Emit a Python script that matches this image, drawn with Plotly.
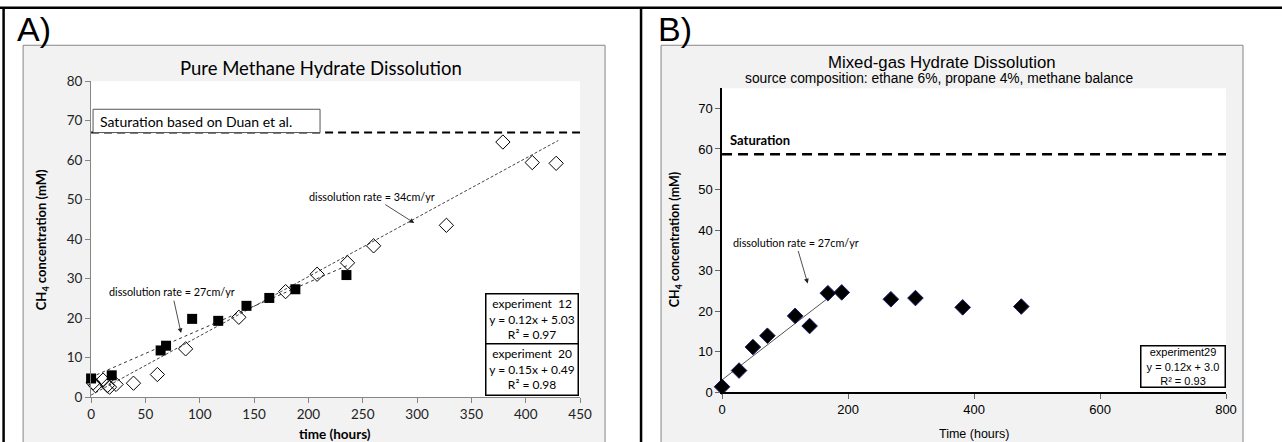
import plotly.graph_objects as go

# The captured page is the 1282x442 target scaled from a slightly larger area
# (8px body margin); positions below are given in target pixels and mapped.
SX, SY = 1282 / 1298, 442 / 458
OFF = 8
W, H = 1290, 450

# ---------------- data ----------------
exp12_time = [0, 19, 64, 69, 93, 117, 143, 164, 188, 235]
exp12_conc = [4.7, 5.5, 11.8, 13.0, 19.8, 19.3, 23.1, 25.1, 27.3, 30.9]

exp20_time = [2, 4, 11, 15, 17, 23, 39, 61, 87, 136, 179, 208, 236, 260, 327, 379, 406, 428]
exp20_conc = [3.6, 2.9, 4.3, 2.9, 2.5, 3.2, 3.5, 5.7, 12.2, 20.2, 26.7, 31.1, 34.0, 38.3, 43.5, 64.6, 59.4, 59.2]

exp29_time = [0, 27, 49, 72, 116, 139, 168, 190, 268, 307, 382, 475]
exp29_conc = [1.3, 5.3, 11.1, 13.9, 18.8, 16.3, 24.4, 24.6, 22.9, 23.2, 20.9, 21.1]

fit12 = (0.12, 5.03, [0, 236])   # slope, intercept, x-extent
fit20 = (0.15, 0.49, [0, 430])
fit29 = (0.12, 3.0, [0, 175])

sat_A = 67.0
sat_B = 58.7

xticks_A = [0, 50, 100, 150, 200, 250, 300, 350, 400, 450]
yticks_A = [0, 10, 20, 30, 40, 50, 60, 70, 80]
xticks_B = [0, 200, 400, 600, 800]
yticks_B = [0, 10, 20, 30, 40, 50, 60, 70]


def px(x):
    return (x / SX - OFF) / W


def py(y):
    return 1 - (y / SY - OFF) / H


CAL = "Lato, Carlito, Calibri, sans-serif"
ARI = "Liberation Sans, Arial, sans-serif"

fig = go.Figure()

# ---- panel A traces ----
for (m, b, ext), dash, col in [(fit12, "dot", "#333333"), (fit20, "3px,2px", "#444444")]:
    fig.add_trace(go.Scatter(x=ext, y=[m * v + b for v in ext], mode="lines",
                             line=dict(color=col, width=1, dash=dash),
                             xaxis="x", yaxis="y", showlegend=False, hoverinfo="skip"))
fig.add_trace(go.Scatter(x=[0, 450], y=[sat_A, sat_A], mode="lines",
                         line=dict(color="black", width=2, dash="8px,5px"),
                         xaxis="x", yaxis="y", showlegend=False))
fig.add_trace(go.Scatter(x=exp20_time, y=exp20_conc, mode="markers",
                         marker=dict(symbol="diamond-open", size=11, color="black", line=dict(width=1)),
                         xaxis="x", yaxis="y", showlegend=False, cliponaxis=False))
fig.add_trace(go.Scatter(x=exp12_time, y=exp12_conc, mode="markers",
                         marker=dict(symbol="square", size=10, color="black"),
                         xaxis="x", yaxis="y", showlegend=False, cliponaxis=False))

# ---- panel B traces ----
m, b, ext = fit29
fig.add_trace(go.Scatter(x=ext, y=[m * v + b for v in ext], mode="lines",
                         line=dict(color="#555555", width=1),
                         xaxis="x2", yaxis="y2", showlegend=False))
fig.add_trace(go.Scatter(x=[0, 800], y=[sat_B, sat_B], mode="lines",
                         line=dict(color="black", width=2.5, dash="10px,6px"),
                         xaxis="x2", yaxis="y2", showlegend=False))
fig.add_trace(go.Scatter(x=exp29_time, y=exp29_conc, mode="markers",
                         marker=dict(symbol="diamond", size=12, color="black",
                                     line=dict(color="#1a1a66", width=1)),
                         xaxis="x2", yaxis="y2", showlegend=False, cliponaxis=False))

shapes = [
    # gray chart areas
    dict(type="rect", xref="paper", yref="paper", x0=px(27), x1=px(609), y0=py(450), y1=py(45),
         fillcolor="#F2F2F2", line=dict(color="#868686", width=1), layer="below"),
    dict(type="rect", xref="paper", yref="paper", x0=px(665), x1=px(1247), y0=py(450), y1=py(45),
         fillcolor="#F2F2F2", line=dict(color="#868686", width=1), layer="below"),
    # white plot areas
    dict(type="rect", xref="paper", yref="paper", x0=px(95), x1=px(584), y0=py(397), y1=py(81),
         fillcolor="white", line=dict(width=0), layer="below"),
    dict(type="rect", xref="paper", yref="paper", x0=px(726), x1=px(1230), y0=py(392), y1=py(88),
         fillcolor="white", line=dict(width=0), layer="below"),
    # table lines
    dict(type="line", xref="paper", yref="paper", x0=px(0), x1=px(1290), y0=py(7.5), y1=py(7.5),
         line=dict(color="black", width=2.5)),
    dict(type="line", xref="paper", yref="paper", x0=px(7.5), x1=px(7.5), y0=py(7), y1=py(455),
         line=dict(color="black", width=2.5)),
    dict(type="line", xref="paper", yref="paper", x0=px(645), x1=px(645), y0=py(7), y1=py(455),
         line=dict(color="black", width=2.5)),
    # saturation text box A
    dict(type="rect", xref="x", yref="y", x0=1.8, x1=210.7, y0=sat_A, y1=72.9,
         fillcolor="white", line=dict(color="#555555", width=1)),
]

ann = []


def text(x, y, t, size, font=CAL, xanchor="center", color="black", **kw):
    ann.append(dict(xref="paper", yref="paper", x=px(x), y=py(y), text=t, showarrow=False,
                    xanchor=xanchor, yanchor="middle", font=dict(family=font, size=size, color=color), **kw))


def arrow_label(t, tip_x, tip_y, dx, dy, xr, yr, size=10.5):
    # tip in data coords, text centre offset from tip in target pixels
    ann.append(dict(xref=xr, yref=yr, x=tip_x, y=tip_y, ax=dx / SX, ay=dy / SY, text=t, showarrow=True,
                    arrowhead=2, arrowsize=1.2, arrowwidth=0.8, arrowcolor="#222222", standoff=0,
                    startstandoff=1, font=dict(family=CAL, size=size, color="black")))


def box(x, y, t, w, h, size, font):
    ann.append(dict(xref="paper", yref="paper", x=px(x), y=py(y), text=t, showarrow=False,
                    xanchor="center", yanchor="middle", width=w / SX, height=h / SY,
                    bordercolor="black", borderwidth=1.5, borderpad=1, bgcolor="white",
                    font=dict(family=font, size=size, color="black")))


text(38, 29, "A)", 34, ARI)
text(679, 29, "B)", 34, ARI)

# panel A texts
text(325, 68, "Pure Methane Hydrate Dissolution", 18.5)
text(102, 121, "Saturation based on Duan et al.", 14, xanchor="left")
text(46, 240, "<b>CH<sub>4</sub> concentration (mM)</b>", 13)
ann[-1]["textangle"] = -90
text(339, 434, "<b>time (hours)</b>", 13.5)
arrow_label("dissolution rate = 34cm/yr", 297.4, 44.1, 376 - 418, 197 - 223, "x", "y", 10.8)
arrow_label("dissolution rate = 27cm/yr", 82.8, 16.2, 176 - 185, 293 - 333, "x", "y", 10.8)
box(536, 319, "experiment  12<br>y = 0.12x + 5.03<br>R² = 0.97", 88, 46, 12, CAL)
box(536, 369, "experiment  20<br>y = 0.15x + 0.49<br>R² = 0.98", 88, 46, 12, CAL)

# panel B texts
text(946, 62, "Mixed-gas Hydrate Dissolution", 16.8, ARI)
text(943, 78, "source composition: ethane 6%, propane 4%, methane balance", 13.8, ARI)
text(732, 140, "<b>Saturation</b>", 13, xanchor="left")
text(679, 240, "<b>CH<sub>4</sub> concentration (mM)</b>", 12.5)
ann[-1]["textangle"] = -90
text(978, 434, "Time (hours)", 12.5, ARI)
arrow_label("dissolution rate = 27cm/yr", 136, 26.8, 800 - 812, 243 - 283, "x2", "y2", 10.8)
box(1187, 366.5, "experiment29<br>y = 0.12x + 3.0<br>R² = 0.93", 80, 37, 11, ARI)

axA = dict(showgrid=False, zeroline=False, showline=True, linecolor="#868686", linewidth=1,
           ticks="outside", ticklen=5, tickcolor="#868686",
           tickfont=dict(family=CAL, size=13.5, color="#222222"))
axB = dict(showgrid=False, zeroline=False, showline=True, linecolor="black", linewidth=1.5,
           ticks="outside", ticklen=5, tickcolor="#666666",
           tickfont=dict(family=ARI, size=13, color="black"))

fig.update_layout(
    width=W, height=H, margin=dict(l=0, r=0, t=0, b=0),
    paper_bgcolor="white", plot_bgcolor="rgba(0,0,0,0)",
    xaxis=dict(axA, domain=[px(95), px(584)], range=[0, 450], tickvals=xticks_A, anchor="y"),
    yaxis=dict(axA, domain=[py(397), py(81)], range=[0, 80], tickvals=yticks_A, anchor="x"),
    xaxis2=dict(axB, domain=[px(726), px(1230)], range=[0, 800], tickvals=xticks_B, anchor="y2"),
    yaxis2=dict(axB, domain=[py(392), py(88)], range=[0, 75], tickvals=yticks_B, anchor="x2"),
    shapes=shapes, annotations=ann,
)

fig.write_html("out.html")
